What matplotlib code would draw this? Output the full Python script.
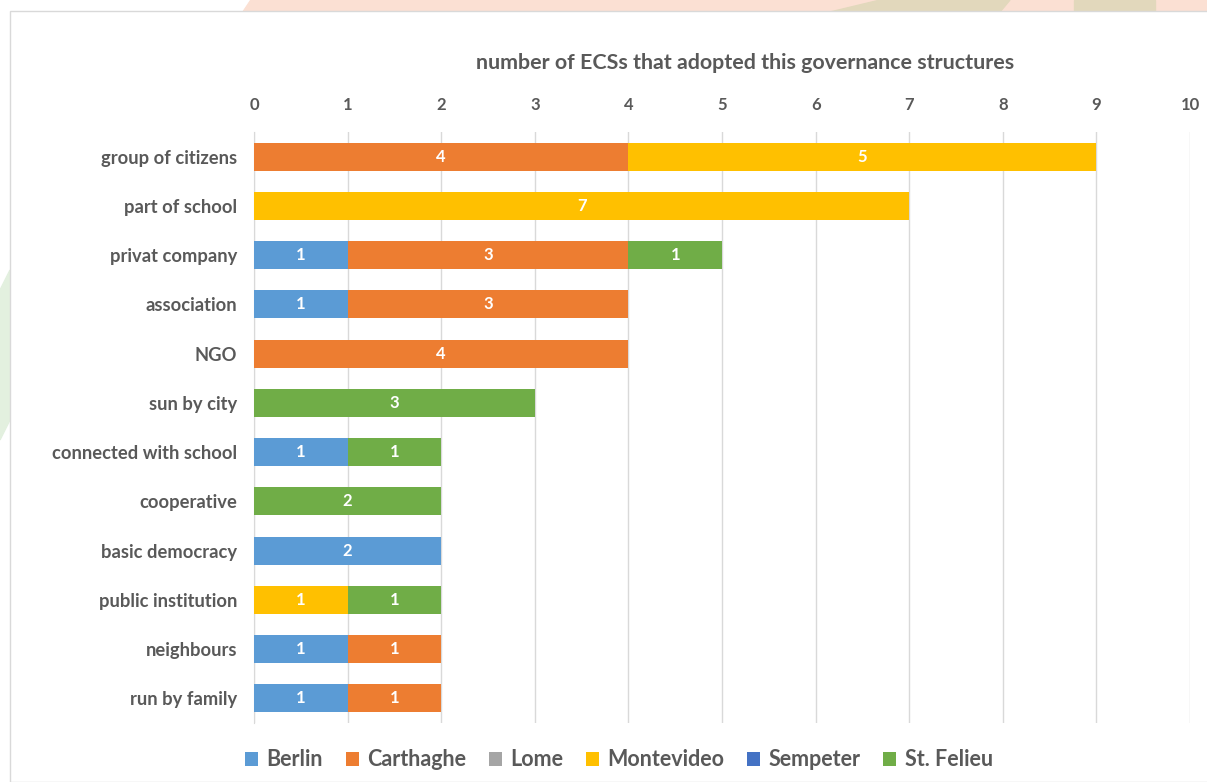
import numpy as np
import matplotlib.pyplot as plt
from matplotlib.patches import Rectangle, Polygon

categories = ["group of citizens", "part of school", "privat company", "association",
              "NGO", "sun by city", "connected with school", "cooperative",
              "basic democracy", "public institution", "neighbours", "run by family"]
berlin     = [0, 0, 1, 1, 0, 0, 1, 0, 2, 0, 1, 1]
carthaghe  = [4, 0, 3, 3, 4, 0, 0, 0, 0, 0, 1, 1]
lome       = [0, 0, 0, 0, 0, 0, 0, 0, 0, 0, 0, 0]
montevideo = [5, 7, 0, 0, 0, 0, 0, 0, 0, 1, 0, 0]
sempeter   = [0, 0, 0, 0, 0, 0, 0, 0, 0, 0, 0, 0]
stfelieu   = [0, 0, 1, 0, 0, 3, 1, 2, 0, 1, 0, 0]

series = [("Berlin", berlin, "#5B9BD5"),
          ("Carthaghe", carthaghe, "#ED7D31"),
          ("Lome", lome, "#A5A5A5"),
          ("Montevideo", montevideo, "#FFC000"),
          ("Sempeter", sempeter, "#4472C4"),
          ("St. Felieu", stfelieu, "#70AD47")]

plt.rcParams['font.family'] = ['Lato', 'DejaVu Sans']
txt = "#595959"

fig = plt.figure(figsize=(12.07, 7.82), dpi=100)
W, H = 1207, 782

# slide decoration behind the chart frame
def px(pts):
    return [(x / W, 1 - y / H) for x, y in pts]
fig.patches.append(Polygon(px([(250, 0), (1207, 0), (1207, 12), (242, 12)]),
                           closed=True, transform=fig.transFigure, color="#FBE0D3", zorder=0))
fig.patches.append(Polygon(px([(830, 12), (1000, 12), (1010, 0), (880, 0)]),
                           closed=True, transform=fig.transFigure, color="#E2D8BC", zorder=0))
fig.patches.append(Polygon(px([(1074, 0), (1155, 0), (1155, 12), (1074, 12)]),
                           closed=True, transform=fig.transFigure, color="#E2D8BC", zorder=0))
fig.patches.append(Polygon(px([(0, 290), (10, 270), (10, 420), (0, 440)]),
                           closed=True, transform=fig.transFigure, color="#E3F0DF", zorder=0))
fig.patches.append(Rectangle((10 / W, 0), 1, 1 - 11 / H, transform=fig.transFigure,
                             facecolor="white", edgecolor="#D9D9D9", lw=1, zorder=1))

ax = fig.add_axes([254 / W, 1 - 723 / H, (1190 - 254) / W, (723 - 132) / H])
ax.set_zorder(2)
ax.patch.set_alpha(0)

y = np.arange(len(categories))
left = np.zeros(len(categories))
for name, vals, col in series:
    vals = np.array(vals, dtype=float)
    bars = ax.barh(y, vals, left=left, height=0.57, color=col, label=name, zorder=3)
    for b, v in zip(bars, vals):
        if v > 0:
            ax.text(b.get_x() + b.get_width() / 2, b.get_y() + b.get_height() / 2,
                    f"{int(v)}", ha="center", va="center", color="white",
                    fontsize=12, fontweight="bold", zorder=4)
    left += vals

ax.set_xlim(0, 10)
ax.set_ylim(len(categories) - 0.5, -0.5)
ax.set_xticks(range(11))
ax.set_yticks(y)
ax.set_yticklabels(categories)
ax.xaxis.tick_top()
ax.xaxis.set_label_position("top")
ax.set_xlabel("number of ECSs that adopted this governance structures",
              fontsize=15.4, fontweight="bold", color=txt, labelpad=19.5)
ax.xaxis.label.set_x(0.525)
ax.tick_params(axis="x", length=0, pad=14, labelsize=12, labelcolor=txt)
ax.tick_params(axis="y", length=0, pad=12, labelsize=13.2, labelcolor=txt)
for lab in ax.get_xticklabels() + ax.get_yticklabels():
    lab.set_fontweight("bold")
ax.grid(axis="x", color="#D9D9D9", lw=1, zorder=0)
for s in ["top", "right", "bottom"]:
    ax.spines[s].set_visible(False)
ax.spines["left"].set_color("#D9D9D9")

leg = fig.legend(loc="center", bbox_to_anchor=(619 / W, 1 - 760 / H), ncol=6,
                 frameon=False, fontsize=15.5, handlelength=0.6, handleheight=0.6,
                 handletextpad=0.4, columnspacing=1.05)
for t in leg.get_texts():
    t.set_color(txt)
    t.set_fontweight("bold")

fig.savefig("out.png", dpi=100)
